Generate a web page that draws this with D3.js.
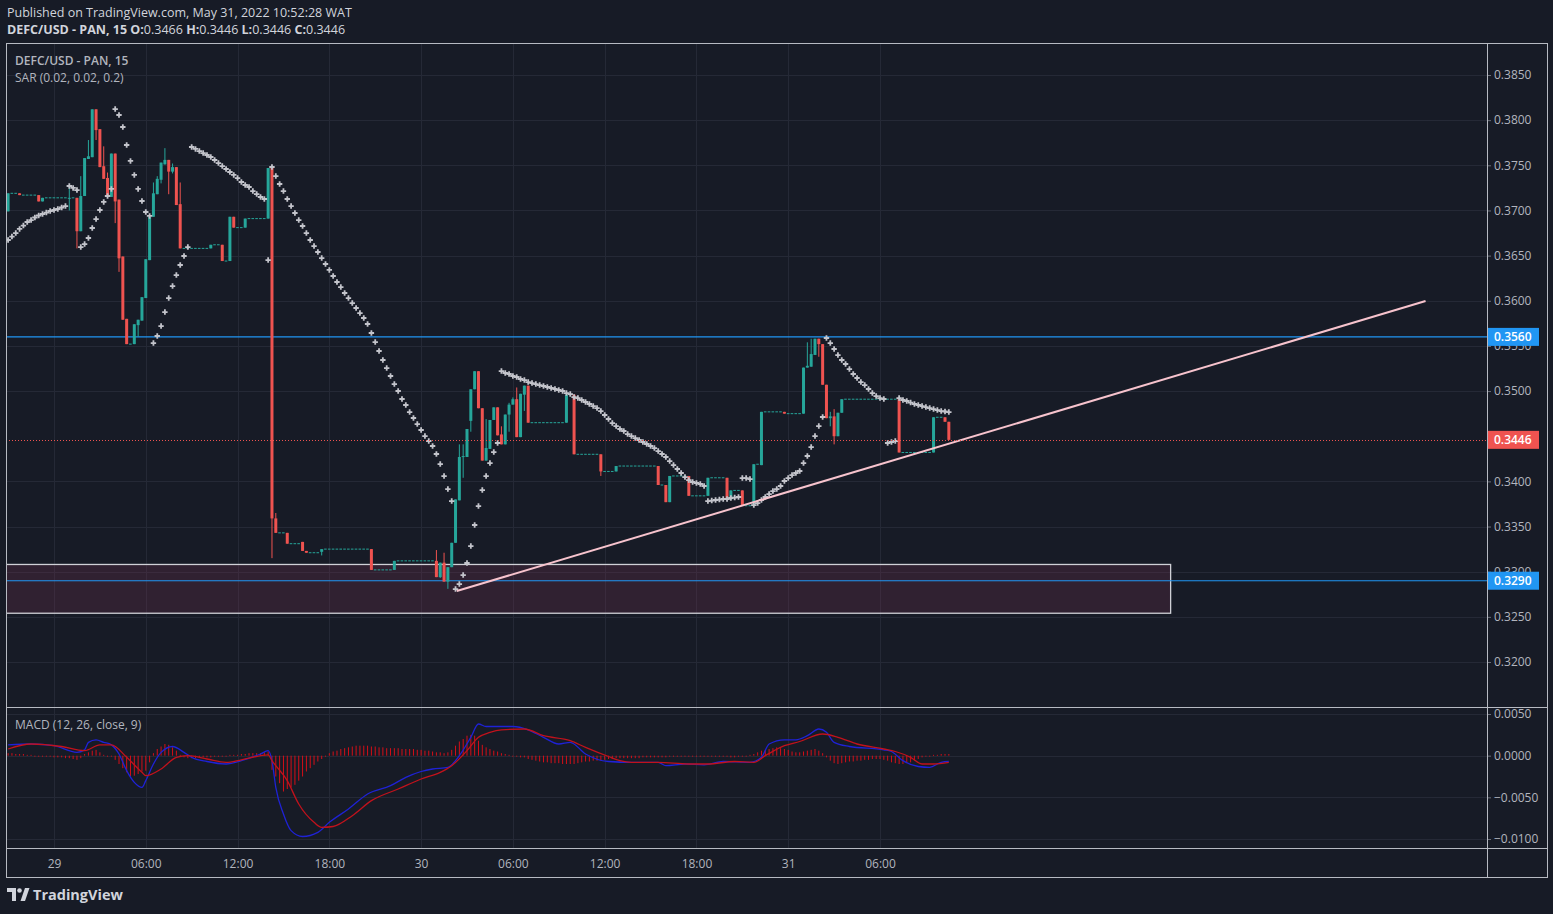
<!DOCTYPE html>
<html><head><meta charset="utf-8">
<script src="https://cdn.jsdelivr.net/npm/d3@7"></script>
<style>
html,body{margin:0;padding:0;background:#171b26;}
svg{display:block;}
text{font-family:"Open Sans","Noto Sans",sans-serif;}
</style></head><body>
<svg id="c" width="1553" height="914"></svg>
<script>
// ---------------- DATA ----------------
const firstBarTime = new Date(2022, 4, 28, 21, 0);   // time of bar 0
const barMinutes = 15;
const barCount = 247;
// non-flat candles: [bar, open, high, low, close]; unlisted bars are no-trade bars at previous close
const candles = [
 [0,.3699,.3719,.3699,.3719],[3,.3719,.3719,.3717,.3717],[8,.3717,.3717,.3710,.3710],[9,.3710,.3714,.3710,.3714],
 [16,.3714,.3728,.3700,.3714],[18,.3714,.3714,.3658,.3677],[19,.3677,.3738,.3677,.3716],[20,.3716,.3758,.3716,.3758],
 [21,.3757,.3778,.3757,.3760],[22,.3759,.3812,.3759,.3812],[23,.3812,.3812,.3778,.3789],[24,.3790,.3790,.3748,.3748],
 [25,.3749,.3771,.3735,.3735],[26,.3736,.3742,.3715,.3715],[27,.3715,.3763,.3715,.3763],[28,.3763,.3763,.3686,.3710],
 [29,.3712,.3712,.3632,.3647],[30,.3649,.3649,.3579,.3579],[31,.3580,.3580,.3552,.3552],[33,.3552,.3574,.3552,.3574],
 [34,.3573,.3579,.3560,.3579],[35,.3578,.3604,.3578,.3604],[36,.3603,.3646,.3603,.3646],[37,.3645,.3693,.3645,.3693],
 [38,.3693,.3731,.3693,.3719],[39,.3718,.3738,.3718,.3735],[40,.3734,.3753,.3730,.3753],[41,.3751,.3769,.3751,.3756],
 [42,.3756,.3756,.3718,.3743],[43,.3743,.3752,.3741,.3748],[44,.3748,.3748,.3706,.3706],[45,.3707,.3731,.3658,.3658],
 [53,.3658,.3662,.3658,.3662],[56,.3662,.3662,.3644,.3644],[58,.3644,.3693,.3644,.3693],[59,.3693,.3693,.3681,.3681],
 [62,.3681,.3691,.3681,.3691],[68,.3691,.3747,.3691,.3747],[69,.3747,.3749,.3315,.3359],[70,.3359,.3365,.3343,.3343],
 [73,.3343,.3343,.3331,.3331],[77,.3333,.3333,.3323,.3323],[78,.3323,.3323,.3321,.3321],[82,.3322,.3325,.3318,.3325],
 [95,.3325,.3325,.3302,.3302],[101,.3302,.3312,.3302,.3312],[112,.3312,.3324,.3294,.3294],[113,.3294,.3310,.3293,.3310],
 [114,.3310,.3321,.3289,.3289],[115,.3289,.3305,.3281,.3305],[116,.3305,.3332,.3305,.3332],[117,.3332,.3380,.3332,.3380],
 [118,.3379,.3441,.3379,.3427],[119,.3427,.3441,.3404,.3428],[120,.3427,.3458,.3427,.3458],[121,.3467,.3502,.3455,.3502],
 [122,.3502,.3522,.3502,.3522],[123,.3522,.3522,.3481,.3481],[124,.3481,.3481,.3423,.3423],[125,.3423,.3469,.3423,.3437],
 [126,.3436,.3468,.3436,.3468],[127,.3468,.3482,.3468,.3482],[128,.3482,.3482,.3451,.3451],[129,.3452,.3461,.3441,.3441],
 [130,.3441,.3474,.3441,.3474],[131,.3474,.3487,.3455,.3485],[132,.3485,.3493,.3485,.3491],[133,.3491,.3504,.3449,.3449],
 [134,.3449,.3497,.3449,.3497],[135,.3496,.3506,.3478,.3506],[136,.3506,.3506,.3465,.3465],[146,.3465,.3496,.3465,.3496],
 [148,.3496,.3496,.3430,.3430],[155,.3430,.3430,.3406,.3411],[159,.3411,.3417,.3411,.3417],[170,.3417,.3417,.3396,.3396],
 [172,.3396,.3396,.3377,.3377],[173,.3377,.3406,.3377,.3406],[178,.3406,.3406,.3384,.3384],[183,.3384,.3404,.3384,.3404],
 [188,.3404,.3404,.3380,.3380],[189,.3380,.3390,.3380,.3390],[192,.3390,.3390,.3373,.3373],[195,.3373,.3419,.3373,.3419],
 [197,.3418,.3477,.3418,.3477],[203,.3477,.3477,.3475,.3475],[208,.3475,.3526,.3475,.3526],[209,.3526,.3554,.3526,.3528],
 [210,.3527,.3558,.3527,.3541],[211,.3540,.3558,.3540,.3558],[212,.3558,.3558,.3538,.3552],[213,.3552,.3552,.3507,.3507],
 [214,.3507,.3507,.3470,.3470],[215,.3470,.3477,.3461,.3472],[216,.3472,.3480,.3441,.3450],[217,.3450,.3476,.3450,.3476],
 [218,.3476,.3491,.3476,.3491],[233,.3491,.3491,.3432,.3432],[242,.3432,.3471,.3432,.3471],[245,.3471,.3471,.3466,.3466],
 [246,.3466,.3466,.3446,.3446]
];
// Parabolic SAR (0.02, 0.02, 0.2), one value per bar
const sar = [
 .36673,.36711,.36750,.36795,.36833,.36872,.36894,.36922,.36944,.36961,.36977,.36994,.37005,.37016,.37033,.37049,
 .37271,.37249,.37226,
 .36595,.36628,.36695,.36806,.36905,.37005,.37094,.37160,.37238,
 .38123,.38057,.37924,.37725,.37548,.37393,.37238,.37105,.36983,.36939,
 .35532,.35610,.35720,.35875,.36030,.36163,.36285,.36396,.36496,.36595,
 .37703,.37681,.37658,.37636,.37614,.37592,.37559,.37525,.37492,.37459,.37426,.37393,.37359,.37315,.37282,.37260,.37215,.37182,.37149,.37127,
 .36451,
 .37481,.37381,.37293,.37215,.37127,.37049,.36972,.36894,.36828,.36750,.36673,.36606,.36540,.36473,.36407,.36341,
 .36274,.36208,.36152,.36086,.36030,.35975,.35920,.35864,.35809,.35743,.35643,.35543,.35444,.35344,.35255,.35167,
 .35078,.35001,.34912,.34846,.34768,.34702,.34635,.34569,.34502,.34447,.34392,.34303,.34192,.34059,.33915,.33782,
 .32808,.32863,.32963,.33096,.33284,.33517,.33727,.33904,.34059,.34203,.34325,.34425,
 .35222,.35200,.35189,.35167,.35156,.35134,.35122,.35100,.35089,.35078,.35067,.35056,.35045,.35034,.35023,.35012,
 .35001,.34978,.34967,.34934,.34923,.34901,.34879,.34857,.34834,.34812,.34779,.34735,.34691,.34646,.34613,.34580,
 .34558,.34524,.34502,.34480,.34458,.34436,.34414,.34392,.34369,.34336,.34303,.34270,.34225,.34181,.34137,.34093,
 .34048,.34015,.33993,.33982,.33971,.33949,
 .33782,.33788,.33794,.33799,.33805,.33805,.33816,.33821,.33827,
 .34037,.34037,.34026,
 .33738,.33760,.33794,.33827,.33860,.33893,.33915,.33949,.34004,.34037,.34070,.34093,.34115,.34203,.34281,.34380,.34502,.34613,.34713,
 .35588,.35532,.35466,.35399,.35344,.35300,.35244,.35189,.35145,.35100,.35067,.35023,.34978,.34945,.34923,.34912,
 .34425,.34436,.34447,
 .34923,.34901,.34890,.34873,.34857,.34846,.34834,.34823,.34812,.34801,.34790,.34779,.34774,.34768
];
// MACD (12, 26, close, 9): histogram per bar
const histogram = [
 .0003,.0003,.0002,.0002,.0002,.0001,.0001,0,-.0001,-.0001,-.0001,-.0001,-.0002,-.0002,-.0002,-.0003,-.0003,-.0004,-.0005,-.0003,
 .0002,.0004,.0006,.0007,.0004,.0001,-.0001,-.0001,-.0005,-.0010,-.0015,-.0020,-.0025,-.0024,-.0022,-.0019,-.0018,-.0008,.0003,.0008,
 .0011,.0014,.0013,.0010,.0006,.0001,-.0002,-.0003,-.0003,-.0003,-.0002,-.0002,-.0002,-.0002,-.0001,-.0001,-.0001,0,.0001,.0001,
 .0001,.0002,.0002,.0003,.0003,.0003,.0003,.0004,.0005,-.0017,-.0025,-.0033,-.0043,-.0040,-.0038,-.0035,-.0030,-.0025,-.0019,-.0015,
 -.0011,-.0007,-.0004,-.0001,.0003,.0005,.0006,.0008,.0009,.0010,.0011,.0012,.0012,.0012,.0012,.0011,.0011,.0010,.0010,.0009,
 .0009,.0009,.0009,.0008,.0008,.0008,.0008,.0007,.0007,.0006,.0006,.0005,.0004,.0004,.0003,.0004,.0007,.0012,.0017,.0020,
 .0024,.0025,.0024,.0018,.0013,.0010,.0008,.0006,.0005,.0003,.0002,.0001,0,-.0001,-.0002,-.0002,-.0004,-.0005,-.0006,-.0007,
 -.0008,-.0008,-.0009,-.0009,-.0009,-.0010,-.0010,-.0010,-.0010,-.0009,-.0008,-.0007,-.0007,-.0006,-.0006,-.0006,-.0005,-.0004,-.0004,-.0003,
 -.0003,-.0003,-.0003,-.0003,-.0003,-.0003,-.0002,-.0002,-.0002,-.0002,-.0002,-.0002,-.0002,-.0001,-.0001,-.0001,-.0001,-.0001,-.0001,-.0001,
 0,0,0,-.0001,-.0001,-.0001,-.0001,-.0001,-.0001,-.0002,-.0002,-.0001,-.0001,0,.0001,.0002,.0004,.0006,.0007,.0008,
 .0009,.0010,.0009,.0008,.0007,.0005,.0004,.0004,.0005,.0006,.0007,.0008,.0006,.0003,-.0002,-.0006,-.0009,-.0010,-.0009,-.0008,
 -.0007,-.0007,-.0006,-.0006,-.0005,-.0005,-.0004,-.0004,-.0004,-.0005,-.0006,-.0008,-.0009,-.0010,-.0010,-.0009,-.0008,-.0006,-.0004,-.0002,
 -.0001,0,.0001,.0001,.0002,.0002,.0002
];
// MACD line and signal line, read at [bar, value]
const macdLine = [[0,.0013],[6,.0014],[12,.0012],[18,.0004],[20,.0007],[21,.0016],[23,.0019],[25,.0016],[27,.0013],[29,.0002],
 [31,-.0018],[33,-.0032],[35,-.0038],[36,-.0030],[38,-.0010],[40,.0004],[43,.0011],[46,.0004],[48,-.0002],[52,-.0007],
 [57,-.0010],[61,-.0006],[66,.0002],[68,.0006],[69,-.0006],[70,-.0038],[72,-.0070],[74,-.0090],[77,-.0097],[81,-.0092],
 [84,-.0080],[89,-.0064],[94,-.0046],[100,-.0036],[104,-.0026],[108,-.0019],[111,-.0016],[115,-.0014],[118,0],[121,.0022],
 [123,.0038],[125,.0035],[129,.0035],[132,.0035],[136,.0031],[140,.0022],[144,.0014],[147,.0016],[151,.0002],[157,-.0007],
 [163,-.0008],[170,-.0008],[172,-.0012],[177,-.0010],[182,-.0011],[187,-.0007],[194,-.0008],[197,-.0002],[199,.0014],[203,.0019],
 [206,.0019],[209,.0024],[212,.0032],[214,.0028],[216,.0016],[220,.0011],[229,.0007],[231,.0005],[234,-.0006],[238,-.0013],
 [241,-.0014],[244,-.0008],[246,-.0007]];
const signalLine = [[0,.0008],[6,.0014],[14,.0011],[20,.0006],[24,.0013],[27,.0013],[31,-.0002],[35,-.0020],[36,-.0024],[40,-.0016],
 [44,-.0002],[47,0],[52,-.0004],[57,-.0008],[61,-.0005],[68,.0001],[69,-.0006],[73,-.0030],[76,-.0058],[80,-.0080],
 [82,-.0086],[85,-.0085],[90,-.0072],[95,-.0054],[102,-.0040],[108,-.0028],[113,-.0020],[116,-.0012],[120,.0006],[123,.0022],
 [126,.0028],[129,.0031],[135,.0032],[140,.0024],[147,.0018],[151,.0010],[157,-.0001],[160,-.0006],[163,-.0008],[170,-.0008],
 [178,-.0010],[183,-.0010],[190,-.0007],[195,-.0008],[198,0],[203,.0012],[207,.0017],[213,.0026],[217,.0022],[222,.0014],
 [229,.0008],[232,.0005],[236,-.0002],[239,-.0010],[242,-.0010],[246,-.0008]];
// drawings
const horizontalLevels = [0.3560, 0.3290];
const lastPrice = 0.3446;
const zoneTop = 0.3308, zoneBottom = 0.3254, zoneEnd = new Date(2022, 5, 1, 1, 0);
const trendLine = [[new Date(2022, 4, 30, 2, 20), 0.32786], [new Date(2022, 5, 1, 17, 40), 0.35997]];
// axes
const priceTicks = [0.3850,0.3800,0.3750,0.3700,0.3650,0.3600,0.3550,0.3500,0.3400,0.3350,0.3300,0.3250,0.3200];
const macdTicks = [0.005, 0, -0.005, -0.010];
const timeTicks = [new Date(2022,4,29,0),new Date(2022,4,29,6),new Date(2022,4,29,12),new Date(2022,4,29,18),
 new Date(2022,4,30,0),new Date(2022,4,30,6),new Date(2022,4,30,12),new Date(2022,4,30,18),
 new Date(2022,4,31,0),new Date(2022,4,31,6)];
const timeTickLabels = ["29","06:00","12:00","18:00","30","06:00","12:00","18:00","31","06:00"];
const headerLine1 = "Published on TradingView.com, May 31, 2022 10:52:28 WAT";
const symbolTitle = "DEFC/USD - PAN, 15";
const ohlcLabels = [["O:","0.3466"],["H:","0.3446"],["L:","0.3446"],["C:","0.3446"]];
const sarTitle = "SAR (0.02, 0.02, 0.2)";
const macdTitle = "MACD (12, 26, close, 9)";

// ---------------- LAYOUT ----------------
const L = 6, R = 1487, AX = 1547, T = 43, MB = 707, PB = 848, B = 877;
const C = {bg:"#171b26", grid:"#252936", frame:"#b7bac2", text:"#b2b5be", up:"#26a69a", down:"#ef5350",
  sar:"#c3c4cb", blue:"#2196f3", trend:"#f7c3cd", macd:"#1f22d6", signal:"#c1121c", hist:"#d40f18"};

const svg = d3.select("#c");
svg.append("rect").attr("width",1553).attr("height",914).attr("fill",C.bg);

const barTime = i => new Date(firstBarTime.getTime() + i*barMinutes*60000);
const x = d3.scaleTime().domain([new Date(2022,4,29,0), new Date(2022,4,31,6)]).range([54, 880]);
const y = d3.scaleLinear().domain([0.3850, 0.3200]).range([75, 662]);
const ym = d3.scaleLinear().domain([0.005, -0.010]).range([714, 839]);
const bx = i => x(barTime(i));

// expand bars
const byBar = new Map(candles.map(c => [c[0], c]));
const bars = [];
let prev = candles[0][1];
for (let i = 0; i < barCount; i++) {
  const c = byBar.get(i);
  if (c) { bars.push({i, o:c[1], h:c[2], l:c[3], c:c[4], flat:false}); prev = c[4]; }
  else bars.push({i, o:prev, h:prev, l:prev, c:prev, flat:true});
}

// clip paths
const defs = svg.append("defs");
defs.append("clipPath").attr("id","cm").append("rect").attr("x",L+1).attr("y",T+1).attr("width",R-L-1).attr("height",MB-T-1);
defs.append("clipPath").attr("id","cp").append("rect").attr("x",L+1).attr("y",MB+1).attr("width",R-L-1).attr("height",PB-MB-1);
defs.append("clipPath").attr("id","ca").append("rect").attr("x",R+1).attr("y",T+1).attr("width",AX-R-1).attr("height",MB-T-1);

// grid
const grid = svg.append("g").attr("stroke",C.grid).attr("stroke-width",1);
timeTicks.forEach(t => grid.append("line").attr("x1",Math.round(x(t))+.5).attr("x2",Math.round(x(t))+.5).attr("y1",T).attr("y2",PB));
priceTicks.forEach(p => grid.append("line").attr("x1",L).attr("x2",R).attr("y1",Math.round(y(p))+.5).attr("y2",Math.round(y(p))+.5));
macdTicks.forEach(p => grid.append("line").attr("x1",L).attr("x2",R).attr("y1",Math.round(ym(p))+.5).attr("y2",Math.round(ym(p))+.5));

const main = svg.append("g").attr("clip-path","url(#cm)");
// zone
main.append("rect").attr("x",L).attr("y",y(zoneTop)).attr("width",x(zoneEnd)-L).attr("height",y(zoneBottom)-y(zoneTop))
  .attr("fill","rgba(120,50,82,0.26)").attr("stroke","#cfd0d6").attr("stroke-width",1.3);
// horizontal levels
horizontalLevels.forEach(p => main.append("line").attr("x1",L).attr("x2",R).attr("y1",y(p)).attr("y2",y(p)).attr("stroke",C.blue).attr("stroke-width",1.1));

// candles
const cg = main.append("g");
bars.forEach(b => {
  const cx = bx(b.i);
  const col = b.c < b.o ? C.down : C.up;
  if (b.flat) {
    cg.append("rect").attr("x",cx-1.4).attr("y",y(b.c)-0.5).attr("width",2.6).attr("height",1).attr("fill",C.up);
    return;
  }
  cg.append("rect").attr("x",cx-0.5).attr("y",y(b.h)).attr("width",1).attr("height",Math.max(1,y(b.l)-y(b.h))).attr("fill",col);
  const top = y(Math.max(b.o,b.c)), bot = y(Math.min(b.o,b.c));
  cg.append("rect").attr("x",cx-1.5).attr("y",top).attr("width",3).attr("height",Math.max(1,bot-top)).attr("fill",col);
});

// SAR
main.append("g").selectAll("path").data(sar).join("path")
  .attr("d", (v,i) => { const cx = bx(i), cy = y(v); return `M${cx-2.7},${cy}H${cx+2.7}M${cx},${cy-2.7}V${cy+2.7}`; })
  .attr("stroke",C.sar).attr("stroke-width",1.8).attr("fill","none");

// trend line
main.append("line").attr("x1",x(trendLine[0][0])).attr("y1",y(trendLine[0][1])).attr("x2",x(trendLine[1][0])).attr("y2",y(trendLine[1][1]))
  .attr("stroke",C.trend).attr("stroke-width",2);
// last price line
main.append("line").attr("x1",L).attr("x2",R).attr("y1",Math.round(y(lastPrice))+.5).attr("y2",Math.round(y(lastPrice))+.5)
  .attr("stroke",C.down).attr("stroke-width",1).attr("stroke-dasharray","1 2");

// MACD pane
const mp = svg.append("g").attr("clip-path","url(#cp)");
mp.append("g").selectAll("rect").data(histogram).join("rect")
  .attr("x",(v,i)=>bx(i)-0.5).attr("y",v=>Math.min(ym(v),ym(0))).attr("width",1)
  .attr("height",v=>Math.max(1,Math.abs(ym(v)-ym(0)))).attr("fill",C.hist);
const ml = d3.line().x(d=>bx(d[0])).y(d=>ym(d[1])).curve(d3.curveMonotoneX);
mp.append("path").attr("d",ml(macdLine)).attr("fill","none").attr("stroke",C.macd).attr("stroke-width",1.3);
mp.append("path").attr("d",ml(signalLine)).attr("fill","none").attr("stroke",C.signal).attr("stroke-width",1.3);

// axes
const fmt = d3.format(".4f");
const pa = svg.append("g").attr("transform",`translate(${R},0)`)
  .call(d3.axisRight(y).tickValues(priceTicks).tickFormat(fmt).tickSize(4).tickPadding(3));
const ma = svg.append("g").attr("transform",`translate(${R},0)`)
  .call(d3.axisRight(ym).tickValues(macdTicks).tickFormat(fmt).tickSize(4).tickPadding(3));
const ta = svg.append("g").attr("transform",`translate(0,${PB})`)
  .call(d3.axisBottom(x).tickValues(timeTicks).tickFormat((d,i)=>timeTickLabels[i]).tickSize(0).tickPadding(11));
[pa,ma,ta].forEach(a => {
  a.select(".domain").remove();
  a.selectAll("line").attr("stroke","#6b6f7a");
  a.selectAll("text").attr("fill",C.text).attr("font-size",12).attr("font-family","'Open Sans',sans-serif");
});

// price tags (drawn over the axis labels they cover, as in the reference)
function tag(p, bg){
  const g = svg.append("g");
  g.append("rect").attr("x",R+1).attr("y",y(p)-9).attr("width",51).attr("height",18).attr("fill",bg);
  g.append("text").attr("x",R+7).attr("y",y(p)).attr("dy","0.35em").attr("fill","#fff").attr("font-size",12)
    .attr("font-weight",600).text(fmt(p));
}
tag(horizontalLevels[0], C.blue);
tag(horizontalLevels[1], C.blue);
tag(lastPrice, C.down);

// frame
const fr = svg.append("g").attr("stroke",C.frame).attr("stroke-width",1).attr("fill","none");
fr.append("rect").attr("x",L+.5).attr("y",T+.5).attr("width",AX-L).attr("height",B-T);
fr.append("line").attr("x1",R+.5).attr("x2",R+.5).attr("y1",T).attr("y2",B);
fr.append("line").attr("x1",L).attr("x2",AX).attr("y1",MB+.5).attr("y2",MB+.5);
fr.append("line").attr("x1",L).attr("x2",AX).attr("y1",PB+.5).attr("y2",PB+.5);

// header texts
svg.append("text").attr("x",7).attr("y",17).attr("fill","#d1d4dc").attr("font-size",12.5).text(headerLine1);
const h2 = svg.append("text").attr("x",7).attr("y",34).attr("fill","#d1d4dc").attr("font-size",12.5);
h2.append("tspan").attr("font-weight",700).text(symbolTitle + "  ");
ohlcLabels.forEach(([k,v]) => { h2.append("tspan").attr("font-weight",700).text(k); h2.append("tspan").text(v + " "); });
svg.append("text").attr("x",15).attr("y",65).attr("fill",C.text).attr("font-size",12).attr("font-weight",600).text(symbolTitle);
svg.append("text").attr("x",15).attr("y",82).attr("fill",C.text).attr("font-size",12).text(sarTitle);
svg.append("text").attr("x",15).attr("y",729).attr("fill",C.text).attr("font-size",12).text(macdTitle);

// TradingView logo
const lg = svg.append("g").attr("fill","#d1d4dc");
lg.append("path").attr("d","M7,888H16V901H12V892H7Z");
lg.append("circle").attr("cx",19.5).attr("cy",890.5).attr("r",2.3);
lg.append("path").attr("d","M20.5,901L25,888H29.5L25,901Z");
svg.append("text").attr("x",33).attr("y",900).attr("fill","#d1d4dc").attr("font-size",14.5).attr("font-weight",700).text("TradingView");
</script>
</body></html>
